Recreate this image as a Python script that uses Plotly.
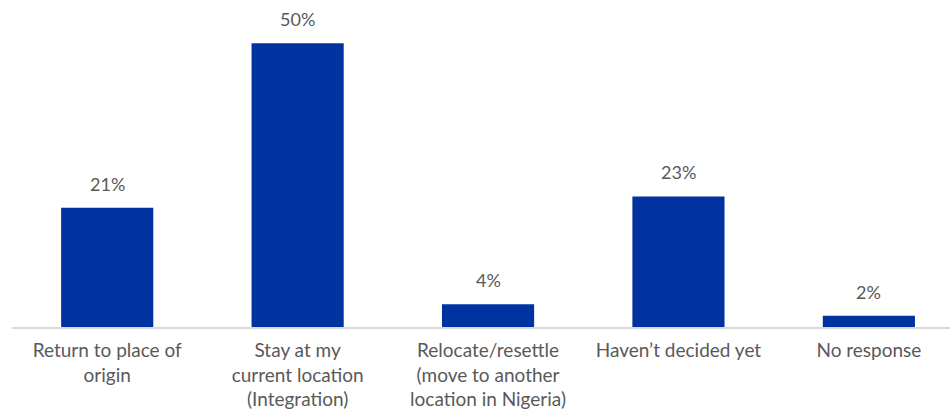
import plotly.graph_objects as go

categories = [
    "Return to place of<br>origin",
    "Stay at my<br>current location<br>(Integration)",
    "Relocate/resettle<br>(move to another<br>location in Nigeria)",
    "Haven’t decided yet",
    "No response",
]
values = [21, 50, 4, 23, 2]
value_labels = [f"{v}%" for v in values]

bar_color = "#0033A0"
text_color = "#595959"
font_family = "Lato, 'Open Sans', sans-serif"

fig = go.Figure(
    go.Bar(
        x=list(range(len(categories))),
        y=values,
        marker=dict(color=bar_color, line=dict(width=0)),
        width=0.484,
        hoverinfo="skip",
    )
)

# value labels above each bar
for i, (v, lab) in enumerate(zip(values, value_labels)):
    fig.add_annotation(
        x=i, y=v, text=lab, showarrow=False,
        yanchor="bottom", yshift=11,
        font=dict(family=font_family, size=18, color=text_color),
    )

fig.update_layout(
    width=950,
    height=414,
    margin=dict(l=12, r=0, t=0, b=87, autoexpand=False),
    paper_bgcolor="white",
    plot_bgcolor="white",
    showlegend=False,
    font=dict(family=font_family, size=19, color=text_color),
    xaxis=dict(
        tickmode="array",
        tickvals=list(range(len(categories))),
        ticktext=categories,
        range=[-0.5, 4.426],
        showgrid=False,
        zeroline=False,
        showline=True,
        linecolor="#d9d9d9",
        linewidth=2,
        ticks="",
        ticklabelstandoff=5,
        automargin=False,
        tickfont=dict(family=font_family, size=19, color=text_color),
    ),
    yaxis=dict(
        range=[0, 57.6],
        visible=False,
        showgrid=False,
        zeroline=False,
    ),
)

fig.write_html("out.html")
